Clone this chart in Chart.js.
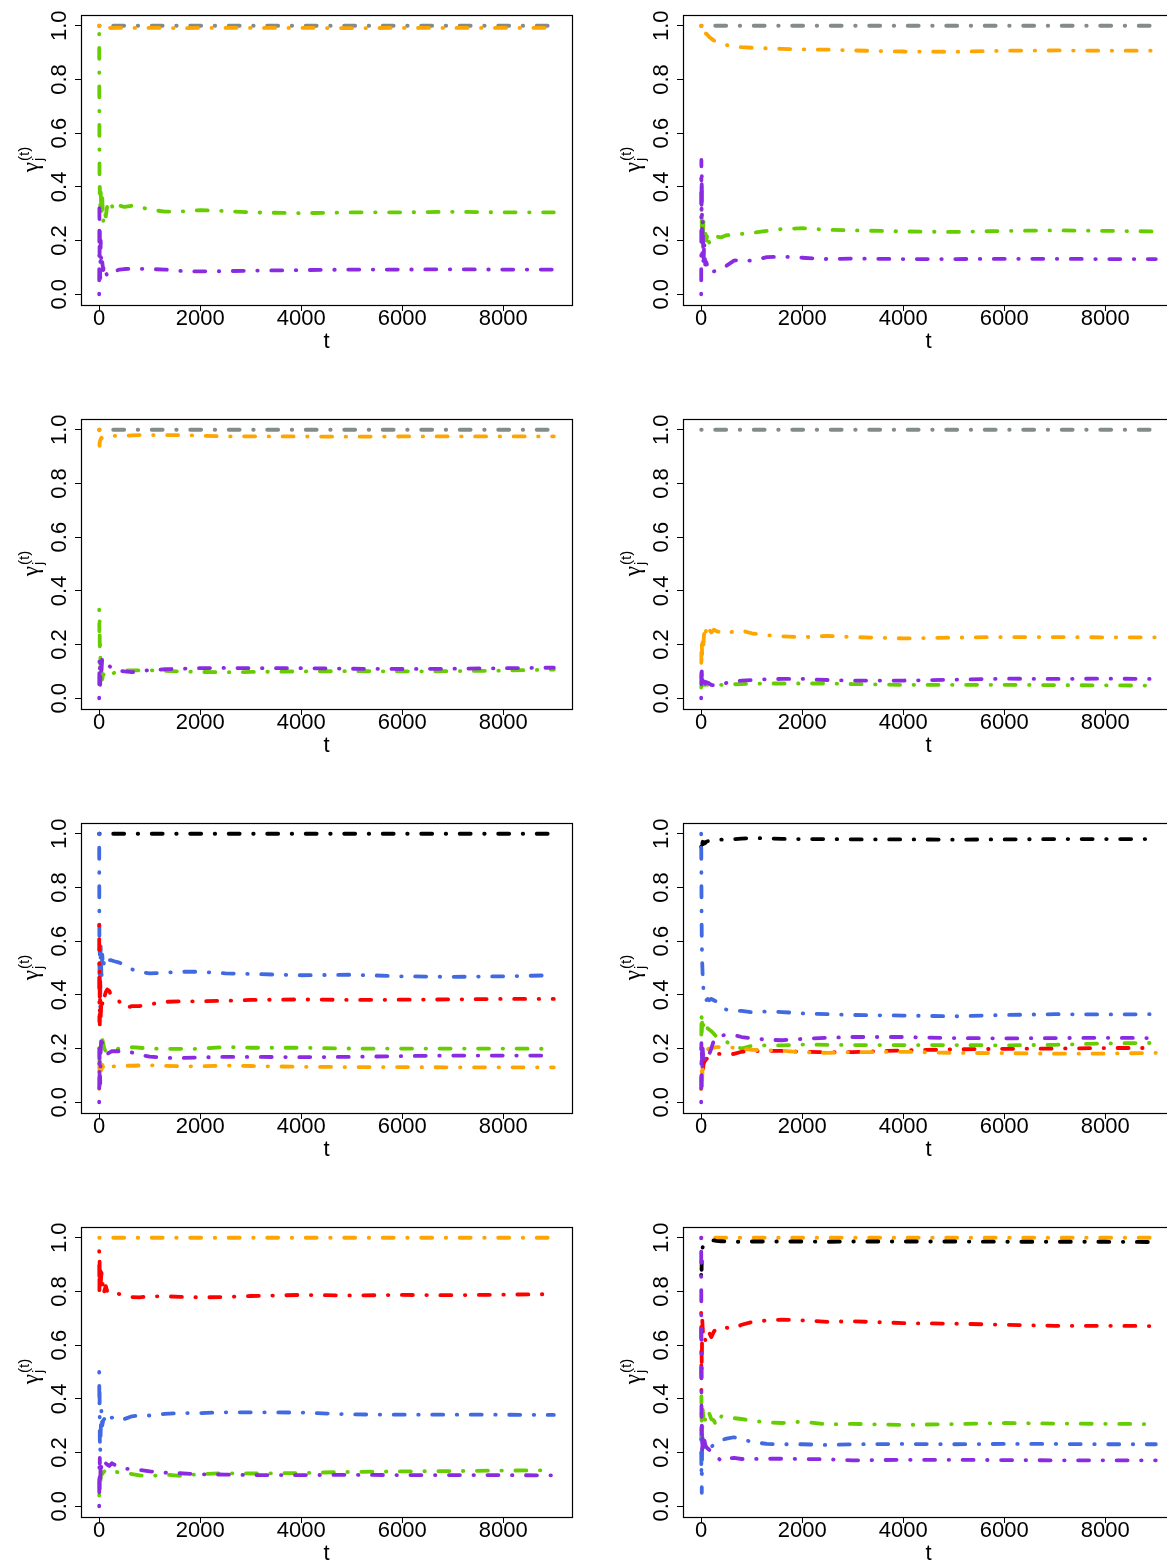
<!DOCTYPE html>
<html>
<head>
<meta charset="utf-8">
<script src="https://cdn.jsdelivr.net/npm/chart.js@4.4.1/dist/chart.umd.min.js"></script>
<style>
html, body { margin: 0; padding: 0; background: #fff; overflow: hidden; }
#sheet { position: relative; width: 1167px; height: 1560px; overflow: hidden; background: #fff; }
#sheet canvas { position: absolute; }
</style>
</head>
<body>
<div id="sheet"></div>
<script>
// time steps shared by the traces, and a 2-point grid for the flat ones
var tSteps = [0, 4, 8, 12, 20, 30, 45, 60, 80, 100, 130, 160, 200, 250, 300, 400, 500, 650, 800, 1000, 1300, 1600, 2000, 2500, 3000, 4000, 5000, 6000, 7000, 8000, 9000];
var tFlat = [0, 9000];
var xTicks = [0, 2000, 4000, 6000, 8000];
var yTicks = [0.0, 0.2, 0.4, 0.6, 0.8, 1.0];

// panel 1 (top left)
var p1Gray = [1.0, 1.0];
var p1Orange = [1.0, 0.99, 0.992, 0.991, 0.992, 0.992, 0.992, 0.992, 0.991, 0.992, 0.992, 0.992, 0.992, 0.991, 0.992, 0.992, 0.992, 0.992, 0.992, 0.992, 0.992, 0.991, 0.992, 0.992, 0.992, 0.992, 0.991, 0.992, 0.992, 0.992, 0.992];
var p1Green = [0.97, 0.60, 0.36, 0.40, 0.33, 0.38, 0.30, 0.36, 0.27, 0.31, 0.29, 0.33, 0.35, 0.33, 0.31, 0.33, 0.325, 0.33, 0.325, 0.315, 0.308, 0.308, 0.313, 0.31, 0.305, 0.302, 0.305, 0.305, 0.307, 0.305, 0.305];
var p1Purple = [0.0, 0.33, 0.15, 0.25, 0.06, 0.2, 0.1, 0.12, 0.09, 0.11, 0.08, 0.07, 0.068, 0.08, 0.085, 0.092, 0.094, 0.095, 0.095, 0.094, 0.092, 0.087, 0.085, 0.086, 0.088, 0.09, 0.092, 0.092, 0.093, 0.092, 0.092];

// panel 2 (top right)
var p2Gray = [1.0, 1.0];
var p2Orange = [1.0, 0.99, 0.985, 0.98, 0.975, 0.97, 0.975, 0.968, 0.972, 0.97, 0.965, 0.958, 0.952, 0.945, 0.942, 0.935, 0.928, 0.923, 0.92, 0.918, 0.916, 0.914, 0.912, 0.911, 0.908, 0.904, 0.903, 0.907, 0.908, 0.907, 0.907];
var p2Green = [0.43, 0.3, 0.4, 0.25, 0.28, 0.22, 0.27, 0.21, 0.24, 0.2, 0.23, 0.19, 0.21, 0.21, 0.215, 0.212, 0.22, 0.222, 0.225, 0.228, 0.236, 0.243, 0.246, 0.24, 0.238, 0.234, 0.232, 0.236, 0.238, 0.236, 0.234];
var p2Purple = [0.0, 0.5, 0.3, 0.45, 0.15, 0.28, 0.1, 0.2, 0.11, 0.12, 0.1, 0.08, 0.082, 0.085, 0.088, 0.1, 0.106, 0.125, 0.13, 0.124, 0.138, 0.14, 0.136, 0.131, 0.133, 0.131, 0.131, 0.132, 0.132, 0.131, 0.131];

// panel 3
var p3Gray = [1.0, 1.0];
var p3Orange = [1.0, 0.95, 0.94, 0.955, 0.96, 0.965, 0.97, 0.968, 0.972, 0.973, 0.974, 0.975, 0.976, 0.977, 0.977, 0.976, 0.977, 0.979, 0.98, 0.98, 0.98, 0.98, 0.978, 0.975, 0.975, 0.975, 0.974, 0.975, 0.975, 0.975, 0.975];
var p3Green = [0.33, 0.25, 0.3, 0.17, 0.2, 0.08, 0.12, 0.07, 0.09, 0.085, 0.09, 0.08, 0.085, 0.09, 0.095, 0.1, 0.103, 0.104, 0.104, 0.104, 0.102, 0.1, 0.098, 0.097, 0.098, 0.1, 0.101, 0.1, 0.101, 0.103, 0.107];
var p3Purple = [0.0, 0.14, 0.06, 0.12, 0.05, 0.14, 0.1, 0.15, 0.14, 0.135, 0.13, 0.125, 0.12, 0.113, 0.115, 0.103, 0.1, 0.097, 0.102, 0.104, 0.108, 0.11, 0.112, 0.113, 0.112, 0.112, 0.11, 0.109, 0.11, 0.112, 0.114];

// panel 4
var p4Gray = [1.0, 1.0];
var p4Orange = [0.08, 0.17, 0.13, 0.2, 0.16, 0.23, 0.2, 0.25, 0.23, 0.26, 0.24, 0.255, 0.245, 0.255, 0.25, 0.245, 0.24, 0.25, 0.252, 0.242, 0.235, 0.231, 0.227, 0.232, 0.228, 0.223, 0.226, 0.228, 0.228, 0.227, 0.227];
var p4Purple = [0.0, 0.12, 0.06, 0.1, 0.05, 0.08, 0.055, 0.065, 0.055, 0.06, 0.058, 0.055, 0.05, 0.048, 0.047, 0.05, 0.057, 0.06, 0.066, 0.068, 0.071, 0.072, 0.072, 0.068, 0.066, 0.066, 0.069, 0.073, 0.072, 0.073, 0.072];
var p4Green = [0.04, 0.06, 0.045, 0.055, 0.05, 0.06, 0.05, 0.055, 0.05, 0.052, 0.05, 0.052, 0.052, 0.05, 0.05, 0.05, 0.051, 0.052, 0.053, 0.054, 0.055, 0.055, 0.055, 0.055, 0.053, 0.05, 0.05, 0.05, 0.049, 0.048, 0.047];

// panel 5
var p5Black = [1.0, 1.0];
var p5Blue = [1.0, 0.6, 0.4, 0.58, 0.35, 0.6, 0.45, 0.55, 0.5, 0.53, 0.52, 0.535, 0.53, 0.528, 0.525, 0.52, 0.51, 0.495, 0.485, 0.48, 0.482, 0.486, 0.486, 0.48, 0.478, 0.473, 0.475, 0.469, 0.467, 0.469, 0.473];
var p5Red = [0.66, 0.3, 0.5, 0.29, 0.45, 0.32, 0.38, 0.36, 0.4, 0.39, 0.41, 0.42, 0.415, 0.39, 0.385, 0.375, 0.35, 0.358, 0.358, 0.365, 0.374, 0.376, 0.376, 0.378, 0.381, 0.383, 0.381, 0.382, 0.383, 0.385, 0.385];
var p5Green = [0.2, 0.22, 0.12, 0.2, 0.18, 0.23, 0.2, 0.235, 0.22, 0.2, 0.19, 0.195, 0.197, 0.196, 0.197, 0.2, 0.2, 0.205, 0.203, 0.2, 0.199, 0.199, 0.199, 0.206, 0.203, 0.203, 0.2, 0.2, 0.2, 0.2, 0.199];
var p5Purple = [0.0, 0.2, 0.06, 0.15, 0.07, 0.2, 0.25, 0.22, 0.21, 0.2, 0.185, 0.18, 0.185, 0.19, 0.19, 0.19, 0.192, 0.185, 0.177, 0.17, 0.165, 0.165, 0.167, 0.169, 0.169, 0.168, 0.169, 0.172, 0.174, 0.174, 0.174];
var p5Orange = [0.05, 0.15, 0.08, 0.14, 0.1, 0.15, 0.12, 0.14, 0.13, 0.12, 0.12, 0.125, 0.128, 0.132, 0.134, 0.135, 0.136, 0.136, 0.137, 0.138, 0.136, 0.134, 0.134, 0.137, 0.135, 0.132, 0.131, 0.131, 0.13, 0.13, 0.13];

// panel 6
var p6Black = [0.95, 0.97, 0.955, 0.965, 0.96, 0.97, 0.962, 0.968, 0.965, 0.97, 0.972, 0.974, 0.975, 0.976, 0.977, 0.978, 0.978, 0.98, 0.982, 0.984, 0.983, 0.981, 0.98, 0.98, 0.979, 0.979, 0.978, 0.979, 0.98, 0.98, 0.98];
var p6Blue = [1.0, 0.85, 0.7, 0.6, 0.52, 0.47, 0.42, 0.39, 0.38, 0.38, 0.385, 0.38, 0.385, 0.38, 0.375, 0.355, 0.345, 0.342, 0.34, 0.335, 0.338, 0.336, 0.331, 0.328, 0.325, 0.323, 0.32, 0.325, 0.328, 0.327, 0.328];
var p6Purple = [0.0, 0.22, 0.08, 0.2, 0.12, 0.2, 0.15, 0.17, 0.15, 0.16, 0.17, 0.18, 0.2, 0.23, 0.243, 0.248, 0.252, 0.25, 0.243, 0.238, 0.233, 0.231, 0.236, 0.24, 0.243, 0.243, 0.239, 0.238, 0.239, 0.24, 0.239];
var p6Green = [0.2, 0.28, 0.33, 0.26, 0.3, 0.27, 0.29, 0.27, 0.285, 0.28, 0.275, 0.27, 0.265, 0.255, 0.245, 0.232, 0.225, 0.21, 0.2, 0.21, 0.212, 0.212, 0.215, 0.214, 0.213, 0.213, 0.213, 0.212, 0.214, 0.219, 0.221];
var p6Red = [0.05, 0.07, 0.1, 0.06, 0.12, 0.1, 0.14, 0.15, 0.155, 0.16, 0.165, 0.17, 0.175, 0.178, 0.18, 0.18, 0.178, 0.18, 0.188, 0.19, 0.192, 0.191, 0.188, 0.186, 0.187, 0.193, 0.197, 0.199, 0.2, 0.202, 0.202];
var p6Orange = [0.05, 0.1, 0.06, 0.12, 0.08, 0.15, 0.18, 0.2, 0.21, 0.2, 0.198, 0.2, 0.2, 0.203, 0.205, 0.206, 0.204, 0.203, 0.2, 0.195, 0.194, 0.192, 0.186, 0.184, 0.186, 0.188, 0.184, 0.183, 0.181, 0.181, 0.184];

// panel 7
var p7Orange = [1.0, 1.0];
var p7Red = [0.95, 0.78, 0.93, 0.8, 0.9, 0.83, 0.87, 0.82, 0.84, 0.8, 0.82, 0.8, 0.805, 0.798, 0.795, 0.79, 0.785, 0.779, 0.778, 0.782, 0.782, 0.78, 0.778, 0.779, 0.783, 0.787, 0.785, 0.787, 0.786, 0.788, 0.79];
var p7Blue = [0.5, 0.37, 0.43, 0.25, 0.2, 0.28, 0.36, 0.3, 0.32, 0.325, 0.345, 0.335, 0.33, 0.33, 0.332, 0.335, 0.325, 0.335, 0.338, 0.338, 0.344, 0.347, 0.347, 0.35, 0.35, 0.349, 0.342, 0.341, 0.341, 0.341, 0.34];
var p7Purple = [0.0, 0.15, 0.06, 0.18, 0.08, 0.17, 0.14, 0.16, 0.15, 0.155, 0.16, 0.155, 0.15, 0.16, 0.155, 0.145, 0.14, 0.138, 0.135, 0.13, 0.125, 0.123, 0.119, 0.118, 0.116, 0.116, 0.117, 0.116, 0.116, 0.116, 0.115];
var p7Green = [0.04, 0.1, 0.05, 0.09, 0.07, 0.11, 0.12, 0.12, 0.125, 0.13, 0.128, 0.13, 0.13, 0.135, 0.13, 0.125, 0.124, 0.12, 0.115, 0.112, 0.118, 0.113, 0.12, 0.123, 0.122, 0.124, 0.128, 0.13, 0.131, 0.133, 0.134];

// panel 8
var p8Orange = [1.0, 1.0];
var p8Black = [0.86, 0.9, 0.88, 0.93, 0.95, 0.965, 0.97, 0.975, 0.978, 0.982, 0.985, 0.988, 0.99, 0.99, 0.988, 0.987, 0.986, 0.985, 0.985, 0.986, 0.986, 0.986, 0.986, 0.985, 0.986, 0.986, 0.986, 0.985, 0.985, 0.985, 0.984];
var p8Red = [0.72, 0.43, 0.6, 0.5, 0.7, 0.66, 0.63, 0.64, 0.62, 0.61, 0.64, 0.645, 0.63, 0.65, 0.662, 0.667, 0.665, 0.662, 0.676, 0.686, 0.692, 0.695, 0.692, 0.687, 0.689, 0.682, 0.68, 0.676, 0.672, 0.672, 0.671];
var p8Green = [0.2, 0.41, 0.3, 0.38, 0.25, 0.36, 0.33, 0.35, 0.32, 0.31, 0.33, 0.345, 0.325, 0.32, 0.3, 0.335, 0.33, 0.328, 0.325, 0.318, 0.313, 0.31, 0.315, 0.305, 0.307, 0.303, 0.306, 0.31, 0.308, 0.307, 0.306];
var p8Blue = [0.25, 0.12, 0.2, 0.05, 0.28, 0.25, 0.22, 0.24, 0.23, 0.236, 0.23, 0.225, 0.221, 0.23, 0.236, 0.246, 0.252, 0.257, 0.25, 0.24, 0.232, 0.231, 0.231, 0.228, 0.231, 0.232, 0.231, 0.232, 0.232, 0.231, 0.231];
var p8Purple = [1.0, 0.5, 0.25, 0.3, 0.2, 0.27, 0.22, 0.25, 0.23, 0.22, 0.215, 0.21, 0.205, 0.195, 0.186, 0.168, 0.178, 0.18, 0.176, 0.176, 0.177, 0.177, 0.176, 0.175, 0.171, 0.173, 0.173, 0.172, 0.171, 0.171, 0.171];

var colGray = '#838B8B', colOrange = '#FFA500', colGreen = '#66CD00', colPurple = '#8A2BE2',
    colBlue = '#4169E1', colRed = '#FF0000', colBlack = '#000000';

var FONT = '"Liberation Sans", Arial, Helvetica, sans-serif';
var GREEK = '"Liberation Serif", "DejaVu Serif", serif';
var dotDash = [0.5, 13.5, 11, 13.5];

// first entry of each list is drawn on top
var panels = [
  { col: 0, row: 0, lines: [[tSteps, p1Purple, colPurple], [tSteps, p1Green, colGreen], [tSteps, p1Orange, colOrange], [tFlat, p1Gray, colGray]] },
  { col: 1, row: 0, lines: [[tSteps, p2Purple, colPurple], [tSteps, p2Green, colGreen], [tSteps, p2Orange, colOrange], [tFlat, p2Gray, colGray]] },
  { col: 0, row: 1, lines: [[tSteps, p3Purple, colPurple], [tSteps, p3Green, colGreen], [tSteps, p3Orange, colOrange], [tFlat, p3Gray, colGray]] },
  { col: 1, row: 1, lines: [[tFlat, p4Gray, colGray], [tSteps, p4Purple, colPurple], [tSteps, p4Green, colGreen], [tSteps, p4Orange, colOrange]] },
  { col: 0, row: 2, lines: [[tSteps, p5Purple, colPurple], [tSteps, p5Orange, colOrange], [tSteps, p5Green, colGreen], [tSteps, p5Red, colRed], [tSteps, p5Blue, colBlue], [tFlat, p5Black, colBlack]] },
  { col: 1, row: 2, lines: [[tSteps, p6Purple, colPurple], [tSteps, p6Orange, colOrange], [tSteps, p6Red, colRed], [tSteps, p6Green, colGreen], [tSteps, p6Blue, colBlue], [tSteps, p6Black, colBlack]] },
  { col: 0, row: 3, lines: [[tSteps, p7Purple, colPurple], [tSteps, p7Green, colGreen], [tSteps, p7Blue, colBlue], [tSteps, p7Red, colRed], [tFlat, p7Orange, colOrange]] },
  { col: 1, row: 3, lines: [[tSteps, p8Purple, colPurple], [tSteps, p8Red, colRed], [tSteps, p8Blue, colBlue], [tSteps, p8Green, colGreen], [tSteps, p8Black, colBlack], [tFlat, p8Orange, colOrange]] }
];

// box round the plot region, like R's bty="o"
var boxFrame = {
  id: 'boxFrame',
  afterDraw: function (chart) {
    var a = chart.chartArea, ctx = chart.ctx;
    ctx.save();
    ctx.strokeStyle = '#000';
    ctx.lineWidth = 1.2;
    ctx.strokeRect(Math.round(a.left) + 0.5, Math.round(a.top) + 0.5, Math.round(a.right - a.left), Math.round(a.bottom - a.top));
    ctx.restore();
  }
};

// y axis title: gamma with subscript j and superscript (t), rotated
var gammaTitle = {
  id: 'gammaTitle',
  afterDraw: function (chart) {
    var a = chart.chartArea, ctx = chart.ctx;
    var cy = (a.top + a.bottom) / 2;
    ctx.save();
    ctx.translate(38, cy);
    ctx.rotate(-Math.PI / 2);
    ctx.fillStyle = '#000';
    ctx.textBaseline = 'alphabetic';
    ctx.textAlign = 'left';
    ctx.font = '23px ' + GREEK;
    var wg = ctx.measureText('\u03B3').width;
    ctx.font = '15px ' + FONT;
    var ws = Math.max(ctx.measureText('(t)').width, ctx.measureText('j').width);
    var x0 = -(wg + ws) / 2;
    ctx.font = '23px ' + GREEK;
    ctx.fillText('\u03B3', x0, 0);
    ctx.font = '15px ' + FONT;
    ctx.fillText('j', x0 + wg + 1, 5);
    ctx.fillText('(t)', x0 + wg + 1, -9);
    ctx.restore();
  }
};

var sheet = document.getElementById('sheet');

panels.forEach(function (p) {
  var cv = document.createElement('canvas');
  cv.width = 602;
  cv.height = 404;
  cv.style.left = (p.col * 602) + 'px';
  cv.style.top = (p.row * 404) + 'px';
  sheet.appendChild(cv);

  var datasets = p.lines.map(function (l) {
    return {
      data: l[0].map(function (t, i) { return { x: t, y: l[1][i] }; }),
      borderColor: l[2],
      borderWidth: 3.8,
      borderDash: dotDash,
      borderCapStyle: 'round',
      borderJoinStyle: 'round',
      pointRadius: 0,
      fill: false,
      tension: 0
    };
  });

  new Chart(cv, {
    type: 'line',
    data: { datasets: datasets },
    plugins: [boxFrame, gammaTitle],
    options: {
      responsive: false,
      animation: false,
      devicePixelRatio: 1,
      layout: { padding: { top: 15, right: 30, left: 0, bottom: 0 } },
      plugins: { legend: { display: false }, tooltip: { enabled: false } },
      scales: {
        x: {
          type: 'linear',
          min: -360,
          max: 9360,
          afterBuildTicks: function (s) { s.ticks = xTicks.map(function (v) { return { value: v }; }); },
          afterFit: function (s) { s.height = 99; },
          grid: { display: true, drawOnChartArea: false, drawTicks: true, tickLength: 6, color: '#000', lineWidth: 1 },
          border: { display: false },
          ticks: {
            font: { family: FONT, size: 22, lineHeight: 1 },
            color: '#000',
            padding: -3,
            maxRotation: 0,
            autoSkip: false,
            callback: function (v) { return String(v); }
          },
          title: { display: true, text: 't', color: '#000', font: { family: FONT, size: 22, lineHeight: 1 }, padding: { top: 0, bottom: 51 } }
        },
        y: {
          type: 'linear',
          min: -0.04,
          max: 1.04,
          afterBuildTicks: function (s) { s.ticks = yTicks.map(function (v) { return { value: v }; }); },
          afterFit: function (s) { s.width = 81; },
          grid: { display: true, drawOnChartArea: false, drawTicks: true, tickLength: 6, color: '#000', lineWidth: 1 },
          border: { display: false },
          ticks: {
            font: { family: FONT, size: 22, lineHeight: 1 },
            color: '#000',
            minRotation: 90,
            maxRotation: 90,
            crossAlign: 'center',
            padding: 0,
            autoSkip: false,
            callback: function (v) { return v.toFixed(1); }
          }
        }
      }
    }
  });
});
</script>
</body>
</html>
